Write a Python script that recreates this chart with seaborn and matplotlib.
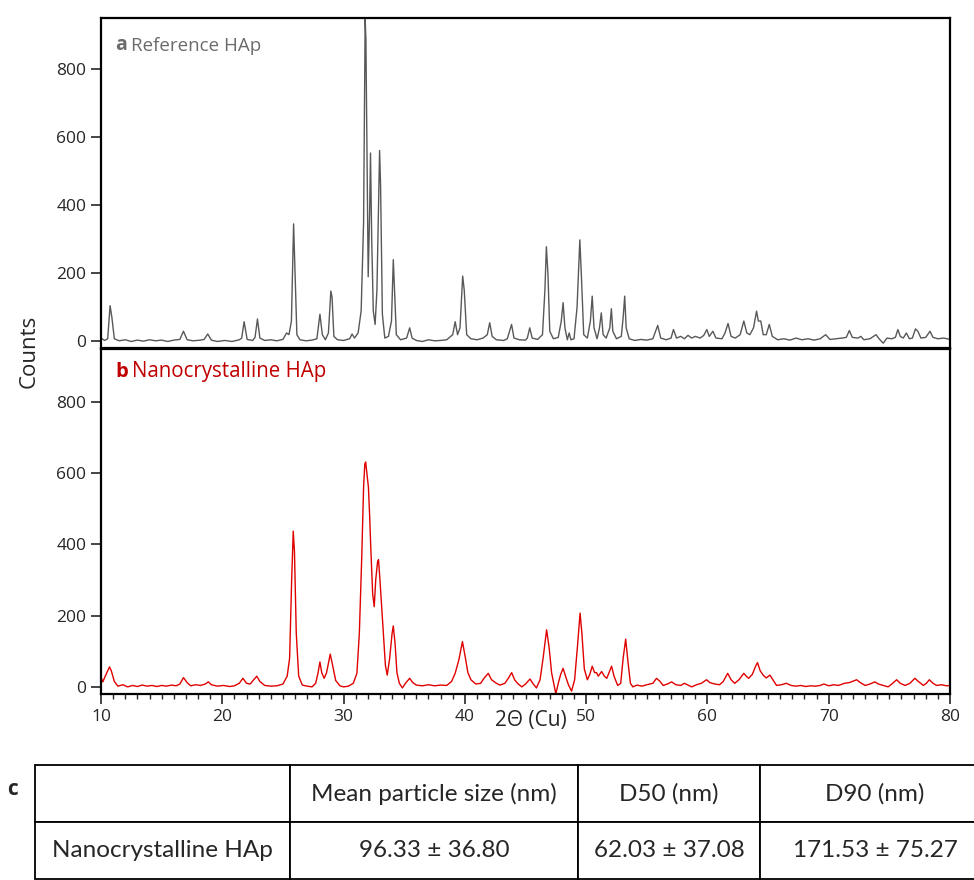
import matplotlib
matplotlib.use("Agg")
import matplotlib.pyplot as plt
import seaborn as sns
import pandas as pd

# XRD pattern a: reference HAp (vertices)
two_theta_a = [10.0, 10.3, 10.55, 10.75, 10.9, 11.1, 11.5, 12.0, 12.5, 13.0, 13.5, 14.0, 14.5, 15.0, 15.5, 16.0,
               16.5, 16.8, 17.1, 17.6, 18.2, 18.5, 18.8, 19.1, 19.6, 20.2, 20.8, 21.4, 21.6, 21.8, 22.05, 22.5,
               22.7, 22.9, 23.1, 23.5, 24.0, 24.5, 25.0, 25.3, 25.5, 25.7, 25.88, 26.0, 26.15, 26.4, 26.9, 27.4,
               27.8, 28.05, 28.25, 28.5, 28.75, 28.95, 29.05, 29.2, 29.5, 30.0, 30.5, 30.7, 30.9, 31.2, 31.45,
               31.65, 31.78, 31.84, 31.95, 32.03, 32.15, 32.22, 32.32, 32.45, 32.6, 32.75, 32.88, 32.97, 33.05,
               33.2, 33.4, 33.7, 33.95, 34.1, 34.2, 34.35, 34.7, 35.2, 35.45, 35.65, 36.0, 36.5, 37.0, 37.5, 38.0,
               38.5, 39.0, 39.2, 39.4, 39.6, 39.82, 39.95, 40.15, 40.5, 41.0, 41.5, 41.85, 42.05, 42.25, 42.6,
               43.2, 43.5, 43.85, 44.05, 44.5, 45.0, 45.15, 45.35, 45.55, 46.0, 46.4, 46.6, 46.72, 46.85, 47.0,
               47.3, 47.7, 47.95, 48.1, 48.25, 48.45, 48.6, 48.75, 49.0, 49.25, 49.48, 49.6, 49.8, 50.1, 50.35,
               50.5, 50.65, 50.9, 51.1, 51.25, 51.4, 51.65, 51.95, 52.08, 52.2, 52.5, 52.9, 53.05, 53.18, 53.3,
               53.55, 54.0, 54.5, 55.0, 55.5, 55.9, 56.15, 56.6, 57.0, 57.2, 57.45, 57.8, 58.1, 58.4, 58.7, 59.0,
               59.4, 59.7, 59.95, 60.15, 60.45, 60.7, 61.2, 61.45, 61.7, 61.95, 62.3, 62.7, 63.0, 63.25, 63.5,
               63.8, 64.05, 64.2, 64.4, 64.6, 64.85, 65.1, 65.35, 65.8, 66.3, 66.8, 67.3, 67.8, 68.3, 68.8, 69.3,
               69.75, 70.1, 70.6, 71.1, 71.45, 71.7, 71.95, 72.4, 72.65, 72.9, 73.4, 73.9, 74.15, 74.5, 74.8,
               75.2, 75.5, 75.7, 75.9, 76.15, 76.4, 76.65, 76.9, 77.15, 77.35, 77.6, 78.0, 78.35, 78.6, 79.0,
               79.5, 80.0]
counts_a = [10, 3, 8, 105, 70, 8, 2, 5, 0, 4, 1, 5, 2, 4, 0, 4,
            6, 30, 5, 2, 4, 6, 22, 4, 0, 3, 0, 5, 10, 58, 6, 3,
            12, 66, 10, 3, 5, 2, 6, 25, 20, 60, 345, 200, 20, 5, 2, 4,
            8, 80, 20, 5, 25, 148, 130, 15, 5, 3, 8, 22, 10, 25, 90,
            350, 945, 890, 500, 190, 380, 553, 300, 90, 50, 150, 400, 560, 460,
            80, 10, 15, 60, 240, 150, 20, 5, 10, 40, 10, 3, 0, 5, 2, 3,
            5, 20, 58, 20, 40, 192, 150, 20, 8, 5, 10, 20, 55, 15, 5,
            3, 8, 50, 10, 5, 4, 10, 40, 10, 6, 20, 150, 278, 200, 30,
            8, 12, 60, 114, 40, 5, 25, 5, 8, 100, 298, 200, 20, 10, 60,
            133, 40, 8, 40, 84, 20, 10, 40, 96, 30, 8, 15, 70, 133, 40,
            8, 3, 6, 4, 8, 47, 10, 5, 10, 35, 10, 15, 8, 18, 10, 15,
            10, 18, 35, 15, 30, 10, 8, 25, 53, 15, 10, 20, 60, 25, 20,
            40, 89, 60, 60, 20, 20, 50, 15, 5, 8, 4, 10, 5, 8, 4, 8,
            20, 6, 8, 10, 12, 32, 12, 10, 15, 5, 8, 20, 8, -5, 10,
            8, 12, 35, 15, 10, 25, 8, 10, 37, 30, 10, 12, 30, 12, 8,
            10, 6]

# XRD pattern b: nanocrystalline HAp
two_theta_b = [10.0, 10.15, 10.35, 10.7, 10.85, 11.1, 11.4, 11.8, 12.2, 12.6, 13.0, 13.4, 13.8, 14.2, 14.6, 15.0,
               15.4, 15.8, 16.2, 16.5, 16.8, 17.1, 17.4, 17.8, 18.2, 18.6, 18.85, 19.1, 19.6, 20.1, 20.6, 21.0,
               21.4, 21.7, 22.0, 22.3, 22.6, 22.84, 23.1, 23.5, 24.0, 24.5, 25.0, 25.35, 25.55, 25.72, 25.85,
               25.95, 26.1, 26.3, 26.6, 27.0, 27.4, 27.7, 27.9, 28.05, 28.2, 28.4, 28.6, 28.9, 29.1, 29.35, 29.7,
               30.0, 30.4, 30.8, 31.1, 31.3, 31.5, 31.65, 31.75, 31.82, 31.95, 32.05, 32.15, 32.25, 32.4, 32.53,
               32.65, 32.8, 32.88, 33.0, 33.15, 33.3, 33.45, 33.6, 33.8, 34.0, 34.1, 34.25, 34.4, 34.6, 34.85,
               35.1, 35.45, 35.7, 36.0, 36.5, 37.0, 37.5, 38.0, 38.5, 38.9, 39.2, 39.5, 39.8, 40.0, 40.25, 40.5,
               40.9, 41.3, 41.6, 41.93, 42.2, 42.6, 42.9, 43.3, 43.6, 43.86, 44.1, 44.4, 44.7, 45.0, 45.37, 45.6,
               45.9, 46.2, 46.45, 46.74, 46.95, 47.15, 47.35, 47.5, 47.7, 47.9, 48.1, 48.3, 48.55, 48.8, 49.05,
               49.3, 49.5, 49.65, 49.85, 50.1, 50.3, 50.5, 50.7, 50.85, 51.0, 51.28, 51.5, 51.7, 51.95, 52.1,
               52.3, 52.6, 52.85, 53.05, 53.26, 53.45, 53.65, 53.85, 54.2, 54.6, 55.0, 55.5, 55.8, 56.1, 56.35,
               56.7, 57.05, 57.4, 57.8, 58.1, 58.4, 58.7, 59.1, 59.5, 59.93, 60.2, 60.6, 61.0, 61.3, 61.67, 61.95,
               62.25, 62.6, 63.0, 63.2, 63.4, 63.7, 64.0, 64.13, 64.35, 64.6, 64.85, 65.15, 65.4, 65.7, 66.1,
               66.5, 66.9, 67.3, 67.7, 68.1, 68.5, 68.9, 69.3, 69.6, 70.0, 70.4, 70.8, 71.3, 71.7, 72.0, 72.3,
               72.6, 73.0, 73.4, 73.8, 74.1, 74.5, 74.9, 75.2, 75.6, 75.9, 76.3, 76.7, 77.1, 77.4, 77.8, 78.05,
               78.3, 78.6, 78.9, 79.3, 79.7, 80.0]
counts_b = [28, 14, 30, 56, 45, 15, 2, 6, 0, 4, 1, 5, 2, 4, 1, 4,
            2, 5, 3, 8, 26, 12, 3, 6, 4, 8, 14, 6, 2, 4, 1, 3,
            10, 24, 10, 8, 20, 30, 15, 4, 2, 3, 8, 30, 80, 300, 437,
            380, 150, 30, 5, 2, 0, 10, 40, 70, 40, 24, 40, 92, 60, 18, 3,
            0, 2, 10, 38, 150, 366, 560, 625, 631, 590, 560, 480, 385, 260, 225,
            300, 350, 357, 300, 220, 140, 60, 33, 80, 150, 171, 120, 40, 10, -3,
            10, 24, 12, 5, 3, 6, 3, 5, 4, 15, 38, 75, 127, 90, 40, 20,
            8, 10, 25, 38, 20, 10, 5, 10, 25, 40, 20, 8, 0, 8, 22, 10,
            -3, 20, 80, 160, 110, 40, 5, -20, 10, 35, 52, 30, 5, -12, 20,
            120, 207, 150, 50, 20, 35, 58, 40, 40, 30, 43, 30, 24, 45, 58,
            30, 4, 10, 80, 134, 70, 10, 0, 5, 2, 6, 10, 24, 15, 4,
            8, 14, 6, 4, 10, 5, 0, 6, 10, 20, 12, 8, 6, 15, 38, 20,
            10, 20, 38, 30, 24, 35, 60, 68, 45, 33, 25, 33, 20, 4, 6,
            10, 4, 2, 4, 1, 3, 2, 4, 8, 3, 6, 4, 10, 12, 16, 20,
            12, 4, 8, 14, 8, 4, 0, 8, 20, 10, 4, 10, 24, 15, 4, 10,
            20, 10, 4, 6, 3, 4]

# particle size table
table_cols = ["", "Mean particle size (nm)", "D50 (nm)", "D90 (nm)"]
table_row = ["Nanocrystalline HAp", "96.33 \u00b1 36.80", "62.03 \u00b1 37.08", "171.53 \u00b1 75.27"]

sns.set_style("ticks")
plt.rcParams["font.family"] = ["Open Sans", "DejaVu Sans"]

df_a = pd.DataFrame({"two_theta": two_theta_a, "counts": counts_a})
df_b = pd.DataFrame({"two_theta": two_theta_b, "counts": counts_b})

fig = plt.figure(figsize=(9.74, 8.8), dpi=100)
W, H = 974, 880
ax_a = fig.add_axes([101 / W, 1 - 348.3 / H, 849 / W, 330 / H])
ax_b = fig.add_axes([101 / W, 1 - 694 / H, 849 / W, 345 / H])

sns.lineplot(data=df_a, x="two_theta", y="counts", ax=ax_a, color="#585858", linewidth=1.0,
             sort=False, estimator=None)
sns.lineplot(data=df_b, x="two_theta", y="counts", ax=ax_b, color="#e00000", linewidth=1.0,
             sort=False, estimator=None)

for ax in (ax_a, ax_b):
    ax.set_xlim(10, 80)
    ax.set_ylim(-20, 948)
    ax.set_yticks([0, 200, 400, 600, 800])
    ax.set_xlabel("")
    ax.set_ylabel("")
    for sp in ax.spines.values():
        sp.set_visible(True)
        sp.set_linewidth(1.6)
        sp.set_color("black")
    ax.tick_params(axis="y", direction="out", length=7, width=1.2, labelsize=12.5, pad=3.5)

ax_a.tick_params(axis="x", bottom=False, labelbottom=False)
ax_b.set_xticks(range(10, 81, 10))
ax_b.set_xticks(range(10, 81, 1), minor=True)
ax_b.tick_params(axis="x", which="major", direction="out", length=7, width=1.2, labelsize=12.5, pad=3.5)
ax_b.tick_params(axis="x", which="minor", direction="out", length=3.5, width=1.0)

# panel labels
ta = ax_a.text(0.017, 0.92, "a", transform=ax_a.transAxes, fontsize=14, fontweight="bold",
               color="#6b6b6b", va="center", ha="left")
ax_a.annotate("Reference HAp", xy=(1, 0), xycoords=ta, xytext=(3, 0), textcoords="offset points",
              fontsize=13.5, color="#6b6b6b", va="bottom", ha="left")
tb = ax_b.text(0.017, 0.933, "b", transform=ax_b.transAxes, fontsize=14.5, fontweight="bold",
               color="#c00000", va="center", ha="left")
ax_b.annotate("Nanocrystalline HAp", xy=(1, 0), xycoords=tb, xytext=(3, 0), textcoords="offset points",
              fontsize=14.8, color="#c00000", va="bottom", ha="left")

fig.text(29 / W, 1 - 351 / H, "Counts", rotation=90, ha="center", va="center", fontsize=16)
fig.text(531 / W, 1 - 720 / H, "2\u0398 (Cu)", ha="center", va="center", fontsize=15)

# table c
fig.text(12 / W, 1 - 789 / H, "c", ha="center", va="center", fontsize=15, fontweight="bold")
ax_t = fig.add_axes([35 / W, 1 - 879 / H, 955 / W, 114 / H])
ax_t.axis("off")
widths = [255, 288, 182, 230]
tbl = ax_t.table(cellText=[table_cols, table_row], colWidths=[w / sum(widths) for w in widths],
                 cellLoc="center", bbox=[0, 0, 1, 1])
tbl.auto_set_font_size(False)
for (r, c), cell in tbl.get_celld().items():
    cell.set_edgecolor("black")
    cell.set_linewidth(1.3)
    cell.get_text().set_fontsize(17.5)
    cell.get_text().set_fontfamily(["Lato", "DejaVu Sans"])
    cell.set_clip_on(False)

fig.savefig("out.png", dpi=100)
